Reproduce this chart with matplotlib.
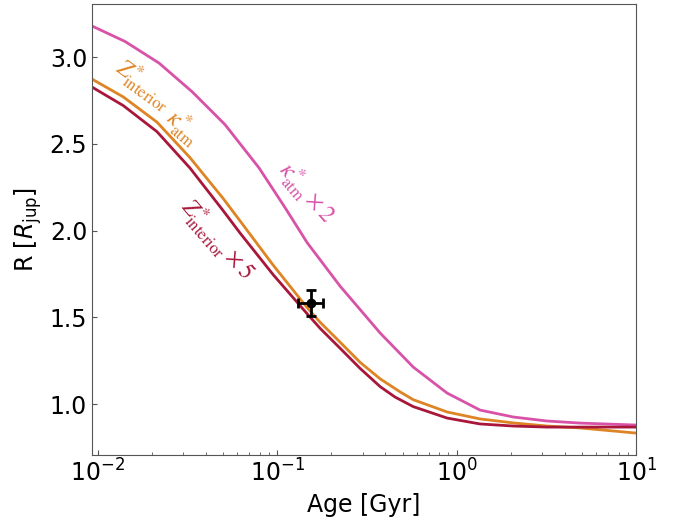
import matplotlib.pyplot as plt

# ages in Gyr and radii in R_jup
age_kappa2 = [0.0093, 0.0142, 0.0220, 0.0336, 0.0513, 0.0794, 0.111, 0.147,
              0.224, 0.375, 0.573, 0.885, 1.35, 2.07, 3.19, 4.88, 9.86]
r_kappa2 = [3.179, 3.090, 2.965, 2.800, 2.610, 2.360, 2.130, 1.930,
            1.680, 1.409, 1.213, 1.063, 0.965, 0.925, 0.902, 0.890, 0.879]

age_base = [0.0093, 0.0139, 0.0214, 0.0327, 0.0500, 0.0622, 0.0951, 0.147,
            0.174, 0.225, 0.290, 0.375, 0.484, 0.573, 0.885, 1.35, 2.07,
            3.19, 4.88, 9.86]
r_base = [2.873, 2.770, 2.625, 2.420, 2.185, 2.055, 1.800, 1.555,
          1.470, 1.355, 1.240, 1.145, 1.070, 1.025, 0.954, 0.914, 0.891,
          0.873, 0.862, 0.833]

age_z5 = [0.0093, 0.0139, 0.0214, 0.0327, 0.0500, 0.0622, 0.0951, 0.147,
          0.174, 0.225, 0.290, 0.375, 0.454, 0.573, 0.885, 1.35, 2.07,
          3.19, 9.86]
r_z5 = [2.827, 2.720, 2.570, 2.360, 2.115, 1.985, 1.745, 1.520,
        1.435, 1.320, 1.205, 1.100, 1.040, 0.985, 0.919, 0.885, 0.873,
        0.867, 0.867]

obs_age, obs_age_err = 0.155, 0.025
obs_r, obs_r_err = 1.582, 0.075

c_mag = "#d852a8"
c_org = "#de8424"
c_red = "#a8173a"

fig = plt.figure(figsize=(6.84, 5.18), dpi=100)
ax = fig.add_axes([0.1345, 0.1216, 0.7955, 0.8704])

ax.plot(age_kappa2, r_kappa2, color=c_mag, lw=2)
ax.plot(age_base, r_base, color=c_org, lw=2)
ax.plot(age_z5, r_z5, color=c_red, lw=2)
ax.errorbar(obs_age, obs_r, xerr=obs_age_err, yerr=obs_r_err, fmt="o",
            color="black", ms=6, elinewidth=2, capsize=3.5, capthick=2)

ax.set_xscale("log")
ax.set_xlim(0.0093, 10)
ax.set_ylim(0.706, 3.305)
ax.set_yticks([1.0, 1.5, 2.0, 2.5, 3.0])

ax.tick_params(which="both", direction="in", labelsize=17, color="#555555")
for s in ax.spines.values():
    s.set_color("#555555")

ax.set_xlabel("Age [Gyr]", fontsize=17)
ax.set_ylabel(r"R [$R_{\rm jup}$]", fontsize=17)

# curve labels placed in pixel coordinates (origin bottom-left)
ax.text(143, 518 - 85, r"$Z^{*}_{\rm interior}$", transform=None, color=c_org,
        fontsize=17, rotation=-36, ha="center", va="center",
        math_fontfamily="stix")
ax.text(183, 518 - 128, r"$\kappa^{*}_{\rm atm}$", transform=None, color=c_org,
        fontsize=17, rotation=-40, ha="center", va="center",
        math_fontfamily="stix")
ax.text(306, 518 - 193, r"$\kappa^{*}_{\rm atm}\times 2$", transform=None, color=c_mag,
        fontsize=17, rotation=-49, ha="center", va="center",
        math_fontfamily="stix")
ax.text(216, 518 - 240, r"$Z^{*}_{\rm interior}\times 5$", transform=None, color=c_red,
        fontsize=17, rotation=-49, ha="center", va="center",
        math_fontfamily="stix")

fig.savefig("out.png", dpi=100)
